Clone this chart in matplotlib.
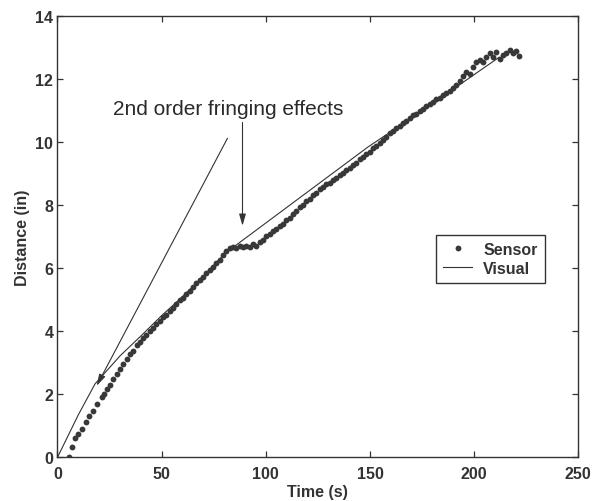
import matplotlib
matplotlib.use("Agg")
import matplotlib.pyplot as plt

# ---- data ----
sensor_t = [5.7, 6.8, 8.4, 10.0, 11.6, 13.7, 15.3, 17.2, 19.1, 21.2, 22.4, 23.6, 25.2, 26.8,
            28.4, 30.0, 31.6, 33.2, 34.8, 36.4, 38.0, 39.5, 41.1, 42.7, 44.3, 45.9, 47.5, 49.1,
            50.7, 52.3, 53.9, 55.5, 57.1, 58.7, 60.3, 61.9, 63.5, 65.1, 66.7, 68.3, 69.9, 71.5,
            73.1, 74.7, 76.3, 77.9, 79.5, 81.1, 82.7, 84.3, 85.9, 87.5, 89.1, 90.7, 92.3, 93.9,
            95.5, 97.1, 98.7, 100.3, 101.9, 103.5, 105.1, 106.7, 108.3, 109.9, 111.5, 113.1,
            114.7, 116.3, 117.9, 119.5, 121.1, 122.7, 124.3, 125.9, 127.5, 129.1, 130.7, 132.3,
            133.9, 135.5, 137.1, 138.7, 140.3, 141.9, 143.5, 145.1, 146.7, 148.3, 149.9, 151.5,
            153.1, 154.7, 156.3, 157.9, 159.5, 161.1, 162.7, 164.3, 165.9, 167.5, 169.1, 170.7,
            172.3, 173.9, 175.5, 177.1, 178.7, 180.3, 181.9, 183.5, 185.1, 186.7, 188.3, 189.9,
            191.5, 193.1, 194.7, 196.3, 197.9, 199.5, 201.1, 202.7, 204.3, 205.9, 207.5, 209.1,
            210.7, 212.3, 213.9, 215.5, 217.1, 218.7, 220.3, 221.5]
sensor_d = [0.00, 0.34, 0.60, 0.74, 0.90, 1.11, 1.30, 1.48, 1.69, 1.90, 2.02, 2.17, 2.31, 2.49,
            2.63, 2.80, 2.95, 3.12, 3.28, 3.38, 3.55, 3.65, 3.79, 3.88, 4.00, 4.12, 4.24, 4.33,
            4.45, 4.53, 4.66, 4.75, 4.88, 4.98, 5.06, 5.17, 5.27, 5.40, 5.52, 5.63, 5.74, 5.86,
            5.94, 6.05, 6.17, 6.28, 6.42, 6.55, 6.63, 6.68, 6.66, 6.70, 6.69, 6.72, 6.68, 6.78,
            6.72, 6.82, 6.90, 7.02, 7.08, 7.17, 7.26, 7.33, 7.42, 7.53, 7.61, 7.73,
            7.82, 7.94, 8.02, 8.14, 8.21, 8.33, 8.40, 8.51, 8.57, 8.67, 8.72, 8.81,
            8.87, 8.96, 9.03, 9.13, 9.19, 9.29, 9.35, 9.46, 9.52, 9.63, 9.70, 9.81,
            9.88, 9.99, 10.06, 10.18, 10.30, 10.36, 10.45, 10.52, 10.62, 10.68, 10.77, 10.86,
            10.91, 11.00, 11.05, 11.14, 11.22, 11.27, 11.36, 11.42, 11.50, 11.58, 11.62, 11.74,
            11.83, 11.95, 12.10, 12.22, 12.18, 12.40, 12.56, 12.62, 12.55, 12.72, 12.82, 12.70,
            12.88, 12.65, 12.78, 12.84, 12.92, 12.85, 12.90, 12.75]

visual_t = [0, 10, 18, 30, 40, 50, 60, 70, 80, 86, 149, 175, 200, 212]
visual_d = [0, 1.35, 2.33, 3.22, 3.85, 4.50, 5.10, 5.75, 6.45, 6.75, 9.85, 11.00, 12.15, 12.70]

x_ticks = [0, 50, 100, 150, 200, 250]
y_ticks = [0, 2, 4, 6, 8, 10, 12, 14]

annot_text = "2nd order fringing effects"

# ---- style ----
ink = "#333333"
plt.rcParams["font.family"] = ["Liberation Sans", "DejaVu Sans"]

fig = plt.figure(figsize=(5.94, 5.02), dpi=100)
ax = fig.add_axes([0.0968, 0.087, 0.8768, 0.8785])

ax.plot(sensor_t, sensor_d, linestyle="none", marker="o", markersize=4.2,
        color="#383838", markeredgewidth=0, label="Sensor", zorder=3)
ax.plot(visual_t, visual_d, color=ink, linewidth=0.8, label="Visual", zorder=2)

ax.set_xlim(0, 250)
ax.set_ylim(0, 14)
ax.set_xticks(x_ticks)
ax.set_yticks(y_ticks)

for s in ax.spines.values():
    s.set_color(ink)
    s.set_linewidth(1.0)
ax.tick_params(direction="in", length=4, width=0.9, colors=ink,
               top=True, right=True, labelsize=11.5)
ax.tick_params(axis="x", pad=6)
ax.tick_params(axis="y", pad=3)
for lab in ax.get_xticklabels() + ax.get_yticklabels():
    lab.set_fontweight("bold")
    lab.set_color(ink)

ax.set_xlabel("Time (s)", fontsize=11.5, fontweight="bold", color=ink)
ax.set_ylabel("Distance (in)", fontsize=11.5, fontweight="bold", color=ink)
ax.xaxis.set_label_coords(0.5, -0.06)
ax.yaxis.set_label_coords(-0.053, 0.5)

ax.text(26.6, 10.9, annot_text, fontsize=15, color="#2a2a2a", ha="left", va="baseline")
ax.annotate("", xy=(18.8, 2.27), xytext=(81.6, 10.13),
            arrowprops=dict(arrowstyle="-|>,head_length=0.7,head_width=0.2",
                            color=ink, lw=0.8, shrinkA=0, shrinkB=0))
ax.annotate("", xy=(88.8, 7.35), xytext=(88.8, 10.63),
            arrowprops=dict(arrowstyle="-|>,head_length=0.7,head_width=0.2",
                            color=ink, lw=0.8, shrinkA=0, shrinkB=0))

leg = ax.legend(loc="upper left", bbox_to_anchor=(0.727, 0.505), borderaxespad=0,
                fancybox=False, framealpha=1, edgecolor=ink,
                prop={"size": 11.5, "weight": "bold"},
                handlelength=1.8, handletextpad=0.7, borderpad=0.45,
                labelspacing=0.25, markerscale=1.0)
leg.get_frame().set_linewidth(1.0)
for t in leg.get_texts():
    t.set_color(ink)

fig.savefig("out.png", dpi=100)
